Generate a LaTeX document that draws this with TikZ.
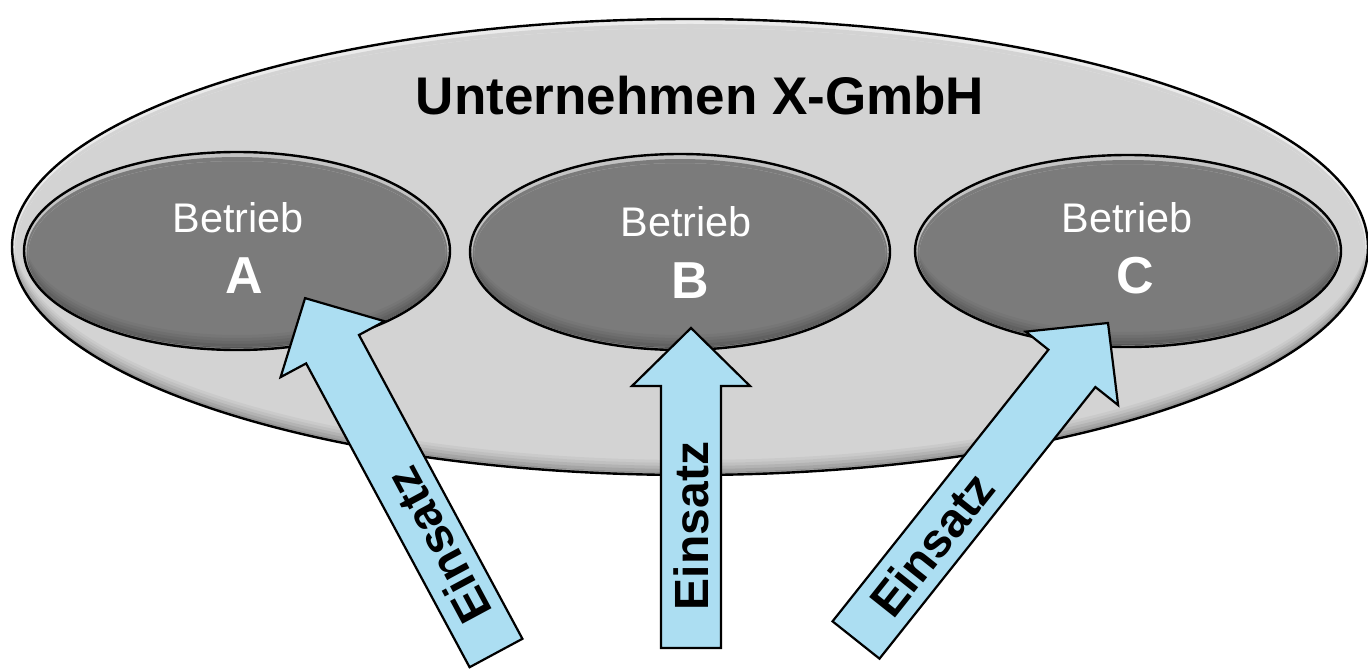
\documentclass[tikz,border=0pt]{standalone}
\usepackage{fontspec}
\setmainfont{Liberation Sans}
\definecolor{outerfill}{RGB}{211,211,211}
\definecolor{innerfill}{RGB}{123,123,123}
\definecolor{arrowfill}{RGB}{172,222,242}
\tikzset{
  rimline/.style={draw=black, line width=1.2pt},
  arrowbody/.style={fill=arrowfill, draw=black, line width=1.1pt, line join=miter},
  titletext/.style={font=\fontsize{26.5}{30}\selectfont\bfseries, anchor=base, inner sep=0pt},
  betriebtext/.style={font=\fontsize{20.7}{24}\selectfont, text=white, anchor=base, inner sep=0pt},
  lettertext/.style={font=\fontsize{26}{30}\selectfont\bfseries, text=white, anchor=base, inner sep=0pt},
  einsatztext/.style={font=\fontsize{24}{28}\selectfont\bfseries, inner sep=0pt},
}
% cx, cy, rx, ry, fill colour
\newcommand\blobshape[5]{%
  \fill[#5] (#1,#2) ellipse [x radius=#3, y radius=#4];
  \begin{scope}
    \clip (#1,#2) ellipse [x radius=#3, y radius=#4];
    \fill[white, opacity=0.55, even odd rule] (#1,#2) ellipse [x radius=#3, y radius=#4]
         (#1,{#2+3}) ellipse [x radius={#3-4}, y radius={#4-6}];
    \fill[#5, even odd rule] (#1,{#2+1.5}) ellipse [x radius={#3-2.5}, y radius={#4-3.5}]
         (#1,{#2+3}) ellipse [x radius={#3-4}, y radius={#4-6}];
    \foreach \d/\o in {3/0.10,6/0.08,9/0.06,12/0.05,15/0.04} {
      \fill[black, opacity=\o, even odd rule] (#1,#2) ellipse [x radius=#3, y radius=#4]
           (#1,{#2-\d}) ellipse [x radius=#3, y radius=#4];
    }
  \end{scope}
  \draw[rimline] (#1,#2) ellipse [x radius=#3, y radius=#4];
}
% name, tail (px), angle, length
\newcommand\einsatzarrow[4]{%
  \begin{scope}[shift={(#2)}, rotate=#3]
    \coordinate (tail#1) at (0,0);
    \coordinate (tip#1) at (#4,0);
    \path[arrowbody] (tail#1) ++(0,-30) -- ({#4-58},-30) -- ({#4-58},-59) -- (tip#1)
         -- ({#4-58},59) -- ({#4-58},30) -- (0,30) -- cycle;
    \node[einsatztext, rotate=#3] (text#1) at (122,0) {Einsatz};
  \end{scope}
}
\begin{document}
\begin{tikzpicture}[x=0.5pt, y=-0.5pt]
\useasboundingbox (0,0) rectangle (1368,668);
\blobshape{690}{247}{678}{228}{outerfill}
\blobshape{237}{251}{213}{99}{innerfill}
\blobshape{680}{252}{210}{98}{innerfill}
\blobshape{1128}{251}{213}{96}{innerfill}
\node[titletext] (title) at (700,115) {Unternehmen X-GmbH};
\node[betriebtext] (betriebA) at (238,232) {Betrieb};
\node[lettertext] (letterA) at (244,293) {A};
\node[betriebtext] (betriebB) at (686,236) {Betrieb};
\node[lettertext] (letterB) at (690,298) {B};
\node[betriebtext] (betriebC) at (1127,232) {Betrieb};
\node[lettertext] (letterC) at (1135,293) {C};
\einsatzarrow{A}{496,653}{118.28}{403}
\einsatzarrow{B}{691,648}{90}{320}
\einsatzarrow{C}{856,640}{51.52}{405}
\end{tikzpicture}
\end{document}
